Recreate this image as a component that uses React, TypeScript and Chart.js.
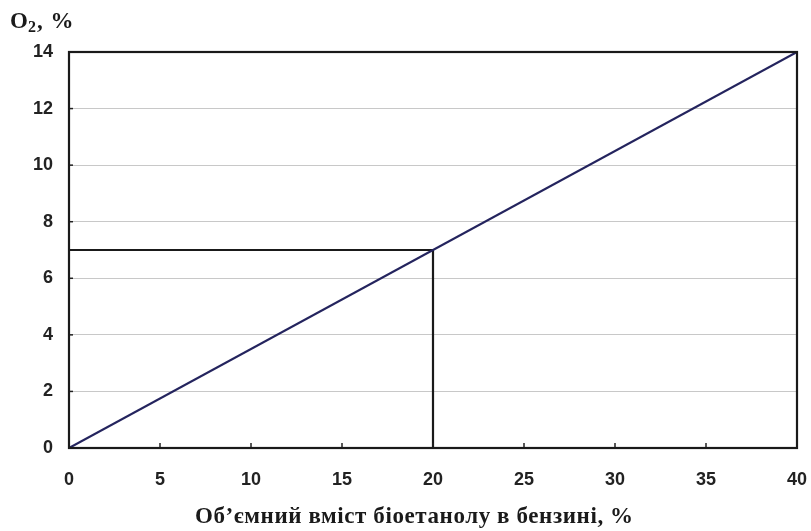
import React, { useEffect, useRef } from "react";
import { Chart, registerables } from "chart.js";

Chart.register(...registerables);

const xTicks = [0, 5, 10, 15, 20, 25, 30, 35, 40];
const yTicks = [0, 2, 4, 6, 8, 10, 12, 14];
const lineX = [0, 40];
const lineY = [0, 14];
const refX = [0, 20, 20];
const refY = [7, 7, 0];
const xTitle = "Об’ємний вміст біоетанолу в бензині, %";
const yTitleMain = "O";
const yTitleSub = "2";
const yTitleRest = ", %";

const PLOT_LEFT = 69;
const PLOT_RIGHT = 797;
const PLOT_TOP = 52;
const PLOT_BOTTOM = 448;
const W = 811;
const H = 531;

const framePlugin = {
  id: "frame",
  afterDatasetsDraw(chart: any) {
    const { ctx, chartArea, scales } = chart;
    ctx.save();
    ctx.strokeStyle = "#222";
    ctx.lineWidth = 1.5;
    for (const v of xTicks) {
      const px = scales.x.getPixelForValue(v);
      ctx.beginPath();
      ctx.moveTo(px, chartArea.bottom);
      ctx.lineTo(px, chartArea.bottom - 5);
      ctx.stroke();
    }
    for (const v of yTicks) {
      const py = scales.y.getPixelForValue(v);
      ctx.beginPath();
      ctx.moveTo(chartArea.left, py);
      ctx.lineTo(chartArea.left + 4, py);
      ctx.stroke();
    }
    ctx.strokeStyle = "#1a1a1a";
    ctx.lineWidth = 2.2;
    ctx.strokeRect(chartArea.left, chartArea.top, chartArea.right - chartArea.left, chartArea.bottom - chartArea.top);
    // titles
    ctx.fillStyle = "#1a1a1a";
    ctx.textBaseline = "alphabetic";
    ctx.textAlign = "left";
    ctx.font = "bold 23px 'Liberation Serif', 'DejaVu Serif', serif";
    let x = 10;
    const y = 28;
    ctx.fillText(yTitleMain, x, y);
    x += ctx.measureText(yTitleMain).width;
    ctx.font = "bold 16px 'Liberation Serif', 'DejaVu Serif', serif";
    ctx.fillText(yTitleSub, x, y + 4);
    x += ctx.measureText(yTitleSub).width + 1;
    ctx.font = "bold 23px 'Liberation Serif', 'DejaVu Serif', serif";
    (ctx as any).letterSpacing = "1px";
    ctx.fillText(yTitleRest, x, y);
    (ctx as any).letterSpacing = "0px";
    ctx.font = "bold 23px 'Liberation Serif', 'DejaVu Serif', serif";
    const tw = ctx.measureText(xTitle).width;
    const target = 438;
    const n = xTitle.length;
    const ls = Math.max(0, (target - tw) / (n - 1));
    (ctx as any).letterSpacing = ls.toFixed(2) + "px";
    ctx.textAlign = "left";
    ctx.fillText(xTitle, 195, 523);
    ctx.restore();
  },
};

export default function App() {
  const ref = useRef<HTMLCanvasElement>(null);
  useEffect(() => {
    if (!ref.current) return;
    const tickFont = { family: "'Liberation Sans', Arial, sans-serif", size: 18, weight: "bold" as const };
    const chart = new Chart(ref.current, {
      type: "scatter",
      data: {
        datasets: [
          {
            data: lineX.map((v, i) => ({ x: v, y: lineY[i] })),
            showLine: true,
            borderColor: "#24245e",
            borderWidth: 2.2,
            pointRadius: 0,
          },
          {
            data: refX.map((v, i) => ({ x: v, y: refY[i] })),
            showLine: true,
            borderColor: "#1a1a1a",
            borderWidth: 2.2,
            pointRadius: 0,
          },
        ],
      },
      options: {
        responsive: false,
        animation: false,
        layout: { padding: { top: PLOT_TOP, right: W - PLOT_RIGHT, left: 0, bottom: 0 } },
        plugins: { legend: { display: false }, tooltip: { enabled: false } },
        scales: {
          x: {
            type: "linear",
            min: 0,
            max: 40,
            afterBuildTicks: (s: any) => {
              s.ticks = xTicks.map((v) => ({ value: v }));
            },
            grid: { display: false, drawTicks: false },
            border: { display: false },
            ticks: { color: "#222", font: tickFont, padding: 21, maxRotation: 0 },
            afterFit: (s: any) => {
              s.height = H - PLOT_BOTTOM;
              s.paddingLeft = 0;
              s.paddingRight = 0;
            },
          },
          y: {
            type: "linear",
            min: 0,
            max: 14,
            afterBuildTicks: (s: any) => {
              s.ticks = yTicks.map((v) => ({ value: v }));
            },
            grid: { color: "#c8c8c8", lineWidth: 1, drawTicks: false },
            border: { display: false },
            ticks: { color: "#222", font: tickFont, padding: 16 },
            afterFit: (s: any) => {
              s.width = PLOT_LEFT;
              s.paddingTop = 0;
              s.paddingBottom = 0;
            },
          },
        },
      },
      plugins: [framePlugin],
    });
    return () => chart.destroy();
  }, []);
  return (
    <div style={{ position: "absolute", left: 0, top: 0, width: W, height: H, background: "#fff" }}>
      <canvas ref={ref} width={W} height={H} style={{ width: W, height: H }} />
    </div>
  );
}
